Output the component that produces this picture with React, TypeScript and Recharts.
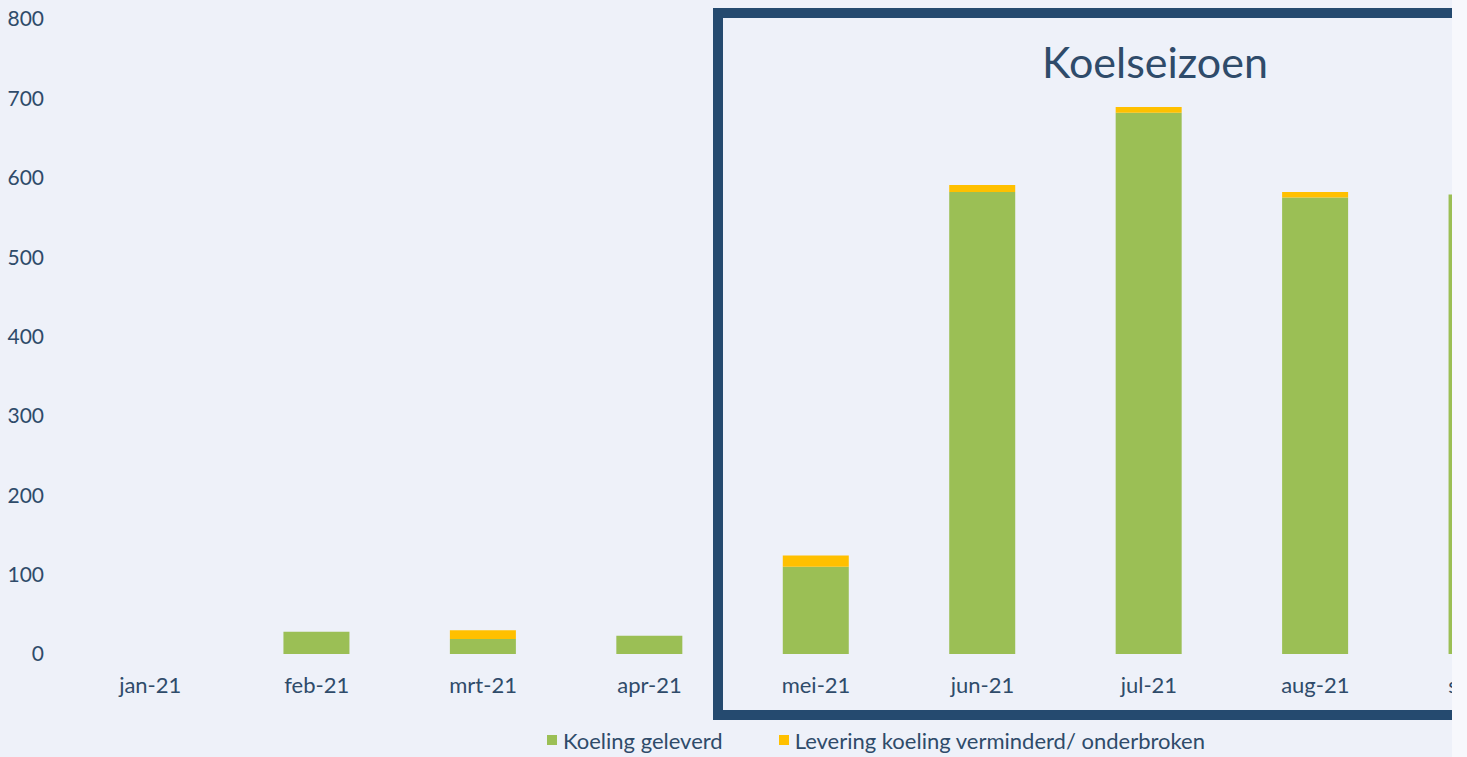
import { BarChart, Bar, XAxis, YAxis, Legend } from 'recharts';

const months = ['jan-21', 'feb-21', 'mrt-21', 'apr-21', 'mei-21', 'jun-21', 'jul-21', 'aug-21', 'sep-21'];
const geleverd = [0, 28, 19, 23, 110, 582, 682, 575, 579];
const verminderd = [0, 0, 11, 0, 14, 9, 7, 7, 0];
const yTicks = [0, 100, 200, 300, 400, 500, 600, 700, 800];

const data = months.map((month, i) => ({
  month,
  geleverd: geleverd[i],
  verminderd: verminderd[i],
}));

const textColor = '#2f4b6a';
const font = 'Lato, "Open Sans", sans-serif';

const LegendContent = ({ payload }: any) => (
  <div style={{ display: 'flex', alignItems: 'center', height: 24, fontFamily: font, fontSize: 22, color: textColor }}>
    {(payload || []).map((item: any, i: number) => (
      <div key={i} style={{ display: 'flex', alignItems: 'center', marginRight: 56 }}>
        <span style={{ width: 10, height: 10, background: item.color, marginRight: 6, display: 'inline-block' }} />
        <span style={{ whiteSpace: 'nowrap' }}>{item.value}</span>
      </div>
    ))}
  </div>
);

const App = () => {
  return (
    <div
      style={{
        position: 'absolute',
        left: 0,
        top: 0,
        width: 1467,
        height: 757,
        overflow: 'hidden',
        background: '#eef1f9',
      }}
    >
      {/* season box */}
      <div
        style={{
          position: 'absolute',
          left: 713,
          top: 8,
          width: 900,
          height: 712,
          boxSizing: 'border-box',
          border: '10px solid #254a6f',
        }}
      />
      <div
        style={{
          position: 'absolute',
          left: 1155,
          top: 40,
          transform: 'translateX(-50%)',
          fontFamily: font,
          fontSize: 43,
          lineHeight: '43px',
          color: textColor,
          whiteSpace: 'nowrap',
        }}
      >
        Koelseizoen
      </div>
      <div style={{ position: 'absolute', left: 0, top: 0 }}>
        <BarChart width={1575} height={757} data={data} margin={{ top: 19, right: 10, left: 0, bottom: 5 }}>
          <XAxis
            dataKey="month"
            axisLine={false}
            tickLine={false}
            tickSize={0}
            tickMargin={23}
            height={74}
            tick={{ fill: textColor, fontSize: 22, fontFamily: font }}
          />
          <YAxis
            domain={[0, 800]}
            ticks={yTicks}
            axisLine={false}
            tickLine={false}
            tickSize={0}
            tickMargin={23}
            width={67}
            tick={{ fill: textColor, fontSize: 21, fontFamily: font }}
          />
          <Legend
            verticalAlign="bottom"
            content={<LegendContent />}
            wrapperStyle={{ left: 547, bottom: 5, width: 'auto' }}
          />
          <Bar dataKey="geleverd" name="Koeling geleverd" stackId="a" fill="#9bbf55" barSize={66} legendType="square" isAnimationActive={false} />
          <Bar dataKey="verminderd" name="Levering koeling verminderd/ onderbroken" stackId="a" fill="#ffc000" barSize={66} legendType="square" isAnimationActive={false} />
        </BarChart>
      </div>
      {/* the source image is cropped here */}
      <div style={{ position: 'absolute', left: 1452, top: 0, width: 15, height: 757, background: '#f7f8fc' }} />
    </div>
  );
};

export default App;
